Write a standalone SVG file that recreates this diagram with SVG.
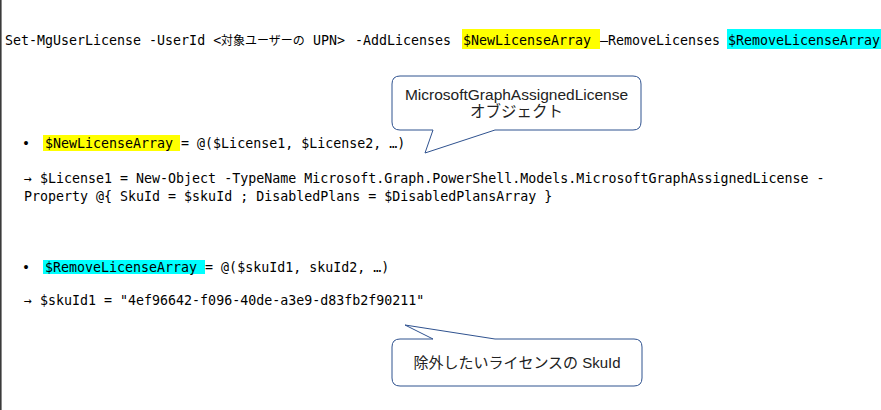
<svg xmlns="http://www.w3.org/2000/svg" width="881" height="410" viewBox="0 0 881 410">
  <style>
    .mono { font-family: "DejaVu Sans Mono", "Liberation Mono", "Noto Sans CJK JP", monospace; font-size: 13.3px; fill: #000; }
    .cjk { font-family: "Noto Sans CJK JP", sans-serif; font-size: 12px; fill: #000; }
    .call { font-family: "Liberation Sans", "Noto Sans CJK JP", sans-serif; font-size: 15px; fill: #222; text-anchor: middle; }
    .big { font-size: 15.5px; }
    .bubble { fill: #fff; stroke: #2F528F; stroke-width: 1; }
    .hy { fill: #FFFF00; }
    .hc { fill: #00FFFF; }
  </style>
  <rect x="0" y="0" width="881" height="410" fill="#fff"/>
  <rect x="0" y="0" width="1.6" height="410" fill="#3a3a3a"/>

  <g id="command">
    <rect class="hy" x="462" y="29" width="138" height="20"/>
    <rect class="hc" x="727" y="29" width="154" height="20"/>
    <text class="mono" x="5" y="44.5">Set-MgUserLicense -UserId &lt;</text>
    <text class="cjk" x="221" y="44.5">対象ユーザーの</text>
    <text class="mono" x="313" y="44.5">UPN&gt;</text>
    <text class="mono" x="355" y="44.5">-AddLicenses</text>
    <text class="mono" x="463" y="44.5">$NewLicenseArray</text>
    <text class="mono" x="600" y="44.5">–RemoveLicenses</text>
    <text class="mono" x="728" y="44.5">$RemoveLicenseArray</text>
  </g>

  <g id="new-license">
    <rect class="hy" x="43" y="135" width="137" height="16"/>
    <text class="mono" x="22" y="147.5">•</text>
    <text class="mono" x="45" y="147.5">$NewLicenseArray = @($License1, $License2, …)</text>
    <text class="mono" x="24" y="183">→ $License1 = New-Object -TypeName Microsoft.Graph.PowerShell.Models.MicrosoftGraphAssignedLicense -</text>
    <text class="mono" x="24" y="201">Property @{ SkuId = $skuId ; DisabledPlans = $DisabledPlansArray }</text>
  </g>

  <g id="remove-license">
    <rect class="hc" x="43" y="260" width="162" height="14"/>
    <text class="mono" x="22" y="272">•</text>
    <text class="mono" x="45" y="272">$RemoveLicenseArray = @($skuId1, skuId2, …)</text>
    <text class="mono" x="24" y="305">→ $skuId1 = "4ef96642-f096-40de-a3e9-d83fb2f90211"</text>
  </g>

  <g id="callout-object">
    <path class="bubble" d="M400,76 H633 Q641,76 641,84 V122 Q641,130 633,130 H495 L425,153 L433,130 H400 Q392,130 392,122 V84 Q392,76 400,76 Z"/>
    <text class="call big" x="516.5" y="99.5">MicrosoftGraphAssignedLicense</text>
    <text class="call big" x="516.5" y="116.5">オブジェクト</text>
  </g>

  <g id="callout-skuid">
    <path class="bubble" d="M400,339 H433 L405,325 L495,339 H634 Q642,339 642,347 V378 Q642,386 634,386 H400 Q392,386 392,378 V347 Q392,339 400,339 Z"/>
    <text class="call" x="517" y="367.5">除外したいライセンスの SkuId</text>
  </g>

  <g id="connectors"/>
</svg>
